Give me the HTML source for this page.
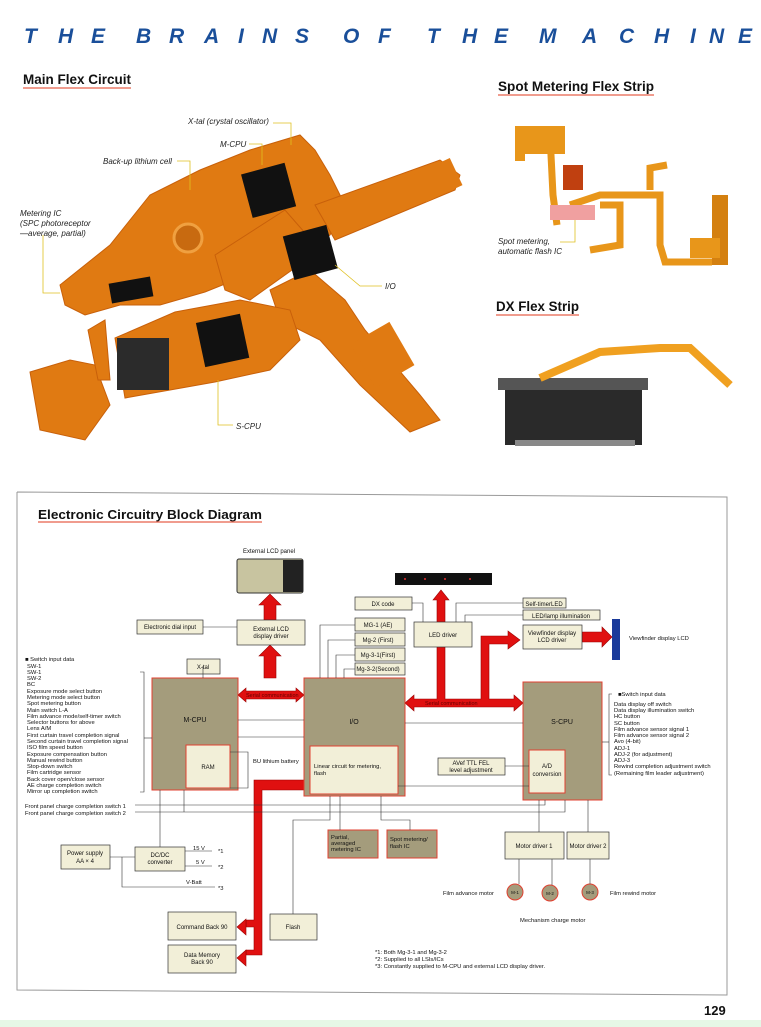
<!DOCTYPE html>
<html><head><meta charset="utf-8"><style>
html,body{margin:0;padding:0;background:#fff;}
svg{display:block;font-family:"Liberation Sans",Arial,sans-serif;}
</style></head><body>
<svg width="761" height="1027" viewBox="0 0 761 1027" xmlns="http://www.w3.org/2000/svg">
<rect width="761" height="1027" fill="#fff"/>
<rect y="1020" width="761" height="7" fill="#e6f7e6"/>
<!-- Title -->
<text y="43" font-size="21" font-weight="bold" font-style="italic" fill="#1a4f9a" x="24 58 91 136 169 204 238 262 295 343 378 427 462 494 539 582 619 654 690 709 738">THEBRAINSOFTHEMACHINE</text>
<g font-weight="bold" font-size="13.5" fill="#111">
<text x="23" y="84" textLength="108" lengthAdjust="spacingAndGlyphs">Main Flex Circuit</text>
<text x="498" y="91" textLength="156" lengthAdjust="spacingAndGlyphs">Spot Metering Flex Strip</text>
<text x="496" y="311" textLength="83" lengthAdjust="spacingAndGlyphs">DX Flex Strip</text>
</g>
<g stroke="#e8614a" stroke-width="1.2">
<line x1="23" y1="88" x2="131" y2="88"/><line x1="498" y1="95" x2="654" y2="95"/><line x1="496" y1="315" x2="579" y2="315"/>
</g>
<!-- Main flex circuit -->
<g fill="#e07a12" stroke="#c8600a" stroke-width="1">
<polygon points="60,285 110,245 150,195 200,170 250,150 300,135 315,150 330,175 345,205 330,235 300,255 255,272 205,292 160,305 120,305 85,315 65,305"/>
<polygon points="315,205 440,160 460,175 455,190 335,240"/>
<polygon points="270,290 310,270 345,300 365,330 420,395 440,420 410,432 360,385 320,340 280,320"/>
<polygon points="115,338 175,312 240,300 290,310 300,340 270,370 215,382 170,390 125,398"/>
<polygon points="30,372 70,360 95,365 110,405 85,440 40,430"/>
<polygon points="88,330 105,320 110,380 98,380"/>
<polygon points="215,255 285,210 320,250 250,300 225,290"/>
</g>
<rect x="117" y="338" width="52" height="52" fill="#2b2b2b"/>
<g fill="#111"><rect x="246" y="168" width="45" height="45" transform="rotate(-15 268 190)"/>
<rect x="288" y="230" width="45" height="45" transform="rotate(-15 310 253)"/>
<rect x="200" y="318" width="45" height="45" transform="rotate(-12 222 340)"/>
<rect x="110" y="280" width="42" height="20" transform="rotate(-10 131 290)"/></g>
<circle cx="188" cy="238" r="14" fill="#c86a10" stroke="#f0a040" stroke-width="3"/>
<g fill="#e07a12"><rect x="418" y="165" width="40" height="30" transform="rotate(-25 438 180)"/><rect x="360" y="330" width="45" height="50" transform="rotate(-30 382 355)"/></g>
<!-- Leaders -->
<g stroke="#e0c020" stroke-width="0.8" fill="none">
<polyline points="273,123 291,123 291,145"/><polyline points="249,144 262,144 262,165"/>
<polyline points="177,161 190,161 190,190"/><polyline points="43,235 43,293 60,293"/>
<polyline points="382,286 360,286 335,265"/><polyline points="233,425 218,425 218,380"/>
<polyline points="560,242 575,242 575,215"/>
</g>
<g font-size="8" font-style="italic" fill="#222">
<text x="188" y="124">X-tal (crystal oscillator)</text><text x="220" y="147">M-CPU</text>
<text x="103" y="164">Back-up lithium cell</text>
<text x="20" y="216">Metering IC</text><text x="20" y="226">(SPC photoreceptor</text><text x="20" y="236">—average, partial)</text>
<text x="385" y="289">I/O</text><text x="236" y="429">S-CPU</text>
<text x="498" y="244">Spot metering,</text><text x="498" y="254">automatic flash IC</text>
</g>
<!-- Spot strip -->
<g fill="none" stroke="#e8961a" stroke-width="7">
<polyline points="550,135 553,195 557,225"/>
<polyline points="570,205 600,195 660,195 660,245 665,262 712,262"/>
<polyline points="600,205 620,205 620,245 590,250"/>
<polyline points="650,190 650,168 667,165"/>
</g>
<rect x="515" y="126" width="50" height="28" fill="#e8961a"/><rect x="515" y="126" width="10" height="35" fill="#e8961a"/>
<rect x="550" y="205" width="45" height="15" fill="#f0a0a0"/><rect x="563" y="165" width="20" height="25" fill="#c04010"/>
<rect x="712" y="195" width="16" height="70" fill="#d48010"/><rect x="690" y="238" width="30" height="20" fill="#e8961a"/>
<!-- DX strip -->
<rect x="505" y="385" width="137" height="60" fill="#2a2a2a"/><rect x="498" y="378" width="150" height="12" fill="#555"/>
<rect x="515" y="440" width="120" height="6" fill="#888"/>
<polyline points="540,378 600,352 660,348 690,348 730,385" fill="none" stroke="#f0a020" stroke-width="8"/>
<!-- Diagram frame -->
<polyline points="17,492 727,497 727,995 17,990 17,492" fill="none" stroke="#999" stroke-width="1"/>
<text x="38" y="519" font-size="13" font-weight="bold" fill="#111" textLength="224" lengthAdjust="spacingAndGlyphs">Electronic Circuitry Block Diagram</text>
<line x1="38" y1="522" x2="262" y2="522" stroke="#e8614a" stroke-width="1.2"/>
<g font-size="6" fill="#111">
<text x="243" y="553">External LCD panel</text>
</g>
<rect x="237" y="559" width="66" height="34" rx="2" fill="#c8c4a0" stroke="#333"/><rect x="283" y="560" width="20" height="32" fill="#222"/>
<rect x="395" y="573" width="97" height="12" fill="#111"/>
<g fill="#e83030"><circle cx="405" cy="579" r="1"/><circle cx="425" cy="579" r="1"/><circle cx="445" cy="579" r="1"/><circle cx="470" cy="579" r="1"/></g>
<rect x="612" y="619" width="8" height="41" fill="#1a3a9a"/>
<!-- red arrows -->
<g fill="#e01010" stroke="#900" stroke-width="0.6">
<polygon points="264,620 264,605 259,605 270,594 281,605 276,605 276,620"/>
<polygon points="264,678 264,656 259,656 270,645 281,656 276,656 276,678"/>
<polygon points="238,695 246,688 246,691 296,691 296,688 304,695 296,702 296,699 246,699 246,702"/>
<polygon points="405,703 414,695 414,699 437,699 437,600 433,600 441,590 449,600 445,600 445,699 481,699 481,636 508,636 508,631 520,640 508,649 508,644 489,644 489,699 514,699 514,695 523,703 514,711 514,707 414,707 414,711"/>
<polygon points="582,632 602,632 602,627 612,637 602,647 602,642 582,642"/>
<polygon points="254,780 304,780 304,790 262,790 262,955 246,955 246,950 254,950 254,927 246,927 246,920 254,920"/>
<polygon points="237,927 246,919 246,935"/><polygon points="237,958 246,950 246,966"/>
</g>
<g font-size="5.5" fill="#600"><text x="246" y="697">Serial communication</text><text x="425" y="705">Serial communication</text></g>
<!-- boxes -->
<g fill="#f2efd8" stroke="#333" stroke-width="0.7">
<rect x="137" y="620" width="66" height="14"/><rect x="237" y="620" width="68" height="25"/>
<rect x="187" y="659" width="33" height="15"/>
<rect x="355" y="597" width="57" height="13"/>
<rect x="355" y="618" width="50" height="13"/><rect x="355" y="633" width="50" height="13"/><rect x="355" y="648" width="50" height="13"/><rect x="355" y="663" width="50" height="12"/>
<rect x="414" y="622" width="58" height="25"/>
<rect x="523" y="598" width="43" height="10"/><rect x="523" y="610" width="77" height="10"/>
<rect x="523" y="625" width="59" height="24"/>
<rect x="438" y="758" width="67" height="17"/>
<rect x="505" y="832" width="59" height="27"/><rect x="567" y="832" width="42" height="27"/>
<rect x="61" y="845" width="49" height="24"/><rect x="135" y="847" width="50" height="24"/>
<rect x="168" y="912" width="68" height="28"/><rect x="168" y="945" width="68" height="28"/>
<rect x="270" y="914" width="47" height="26"/>
</g>
<g fill="#a49c7c" stroke="#e04030" stroke-width="1">
<rect x="152" y="678" width="86" height="112"/><rect x="304" y="678" width="101" height="118"/><rect x="523" y="682" width="79" height="118"/>
<rect x="328" y="830" width="50" height="28"/><rect x="387" y="830" width="50" height="28"/>
<circle cx="515" cy="892" r="8"/><circle cx="550" cy="893" r="8"/><circle cx="590" cy="892" r="8"/>
</g>
<g fill="#f2efd8" stroke="#e04030" stroke-width="1">
<rect x="186" y="745" width="44" height="43"/><rect x="310" y="746" width="88" height="48"/><rect x="529" y="750" width="36" height="43"/>
</g>
<!-- thin connectors -->
<g stroke="#333" stroke-width="0.6" fill="none">
<line x1="203" y1="627" x2="237" y2="627"/><line x1="203" y1="666" x2="203" y2="678"/>
<line x1="238" y1="720" x2="304" y2="720"/><line x1="238" y1="737" x2="304" y2="737"/>
<polyline points="230,752 248,752 248,788 230,788"/>
<polyline points="320,678 320,625 355,625"/><polyline points="328,678 328,640 355,640"/><polyline points="336,678 336,655 355,655"/><polyline points="344,678 344,669 355,669"/>
<polyline points="412,603 423,603 423,622"/>
<polyline points="456,622 456,603 523,603"/><polyline points="465,622 465,615 523,615"/>
<line x1="405" y1="723" x2="523" y2="723"/><line x1="505" y1="766" x2="529" y2="766"/><line x1="398" y1="786" x2="529" y2="786"/>
<polyline points="140,672 144,672 144,792 140,792"/><line x1="144" y1="738" x2="152" y2="738"/>
<polyline points="612,694 609,694 609,775 612,775"/><line x1="602" y1="742" x2="609" y2="742"/>
<polyline points="135,805 545,805 545,800"/><polyline points="135,812 565,812 565,800"/><line x1="184" y1="812" x2="184" y2="790"/>
<polyline points="160,790 160,847"/>
<line x1="340" y1="796" x2="340" y2="830"/><polyline points="381,796 381,820 410,820 410,830"/>
<polyline points="330,796 330,820 293,820 293,914"/>
<line x1="539" y1="800" x2="539" y2="832"/><line x1="588" y1="800" x2="588" y2="832"/>
<line x1="519" y1="859" x2="519" y2="884"/><line x1="552" y1="859" x2="552" y2="885"/><line x1="590" y1="859" x2="590" y2="884"/>
<line x1="110" y1="857" x2="135" y2="857"/><polyline points="122,857 122,887 215,887"/>
<line x1="185" y1="851" x2="212" y2="851"/><line x1="185" y1="866" x2="212" y2="866"/>
</g>
<g font-size="6" fill="#111" text-anchor="middle">
<text x="170" y="629">Electronic dial input</text>
<text x="271" y="631">External LCD</text><text x="271" y="638">display driver</text>
<text x="203" y="669">X-tal</text><text x="195" y="722" font-size="7">M-CPU</text><text x="354" y="724" font-size="7">I/O</text><text x="562" y="724" font-size="7">S-CPU</text>
<text x="208" y="769">RAM</text><text x="547" y="768">A/D</text><text x="547" y="776">conversion</text>
<text x="383" y="606">DX code</text><text x="378" y="627">MG-1 (AE)</text><text x="378" y="642">Mg-2 (First)</text><text x="378" y="657">Mg-3-1(First)</text><text x="378" y="671">Mg-3-2(Second)</text>
<text x="443" y="637">LED driver</text>
<text x="544" y="606">Self-timerLED</text><text x="561" y="618">LED/lamp illumination</text>
<text x="552" y="635">Viewfinder display</text><text x="552" y="642">LCD driver</text>
<text x="471" y="765">AVef TTL FEL</text><text x="471" y="772">level adjustment</text>
<text x="534" y="848">Motor driver 1</text><text x="588" y="848">Motor driver 2</text>
<text x="85" y="855">Power supply</text><text x="85" y="863">AA × 4</text>
<text x="160" y="857">DC/DC</text><text x="160" y="864">converter</text>
<text x="202" y="929">Command Back 90</text><text x="202" y="957">Data Memory</text><text x="202" y="964">Back 90</text>
<text x="293" y="929">Flash</text>
<text x="515" y="894" font-size="4.5">M-1</text><text x="550" y="895" font-size="4.5">M-2</text><text x="590" y="894" font-size="4.5">M-3</text>
</g>
<g font-size="5.8" fill="#111">
<text x="629" y="640">Viewfinder display LCD</text>
<text x="253" y="763">BU lithium battery</text>
<text x="314" y="768">Linear circuit for metering,</text><text x="314" y="775">flash</text>
<text x="331" y="839">Partial,</text><text x="331" y="845">averaged</text><text x="331" y="851">metering IC</text>
<text x="390" y="841">Spot metering/</text><text x="390" y="848">flash IC</text>
<text x="25" y="808">Front panel charge completion switch 1</text><text x="25" y="815">Front panel charge completion switch 2</text>
<text x="193" y="850">15 V</text><text x="218" y="853">*1</text><text x="196" y="864">5 V</text><text x="218" y="869">*2</text>
<text x="186" y="884">V-Batt</text><text x="218" y="890">*3</text>
<text x="443" y="895">Film advance motor</text><text x="610" y="895">Film rewind motor</text>
<text x="520" y="922">Mechanism charge motor</text>
<text x="375" y="954">*1: Both Mg-3-1 and Mg-3-2</text><text x="375" y="961">*2: Supplied to all LSIs/ICs</text><text x="375" y="968">*3: Constantly supplied to M-CPU and external LCD display driver.</text>
</g>
<g font-size="5.8" fill="#111">
<text x="25" y="661">■ Switch input data</text>
<text x="27" y="668">SW-1</text><text x="27" y="674">SW-1</text><text x="27" y="680">SW-2</text><text x="27" y="686">BC</text>
<text x="27" y="693">Exposure mode select button</text><text x="27" y="699">Metering mode select button</text><text x="27" y="705">Spot metering button</text>
<text x="27" y="712">Main switch L-A</text><text x="27" y="718">Film advance mode/self-timer switch</text><text x="27" y="724">Selector buttons for above</text>
<text x="27" y="730">Lens A/M</text><text x="27" y="737">First curtain travel completion signal</text><text x="27" y="743">Second curtain travel completion signal</text>
<text x="27" y="749">ISO film speed button</text><text x="27" y="756">Exposure compensation button</text><text x="27" y="762">Manual rewind button</text>
<text x="27" y="768">Stop-down switch</text><text x="27" y="774">Film cartridge sensor</text><text x="27" y="781">Back cover open/close sensor</text>
<text x="27" y="787">AE charge completion switch</text><text x="27" y="793">Mirror up completion switch</text>
</g>
<g font-size="5.8" fill="#111">
<text x="618" y="696">■Switch input data</text>
<text x="614" y="706">Data display off switch</text><text x="614" y="712">Data display illumination switch</text><text x="614" y="718">HC button</text>
<text x="614" y="725">SC button</text><text x="614" y="731">Film advance sensor signal 1</text><text x="614" y="737">Film advance sensor signal 2</text>
<text x="614" y="743">Avo (4-bit)</text><text x="614" y="750">ADJ-1</text><text x="614" y="756">ADJ-2 (for adjustment)</text><text x="614" y="762">ADJ-3</text>
<text x="614" y="768">Rewind completion adjustment switch</text><text x="614" y="775">(Remaining film leader adjustment)</text>
</g>
<text x="704" y="1015" font-size="13" font-weight="bold" fill="#111">129</text>
</svg>
</body></html>
